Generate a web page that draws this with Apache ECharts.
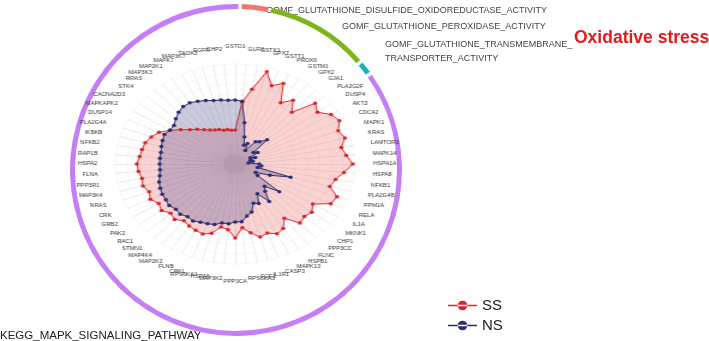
<!DOCTYPE html>
<html><head><meta charset="utf-8">
<script src="https://cdn.jsdelivr.net/npm/echarts@6/dist/echarts.min.js"></script>
<style>
html,body{margin:0;padding:0;background:#fff}
#wrap{position:relative;width:709px;height:341px;overflow:hidden}
#c{position:absolute;left:0;top:0;width:709px;height:341px}
#r{position:absolute;left:0;top:0;width:591px;height:341px;transform:scaleX(1.2);transform-origin:0 0}
</style>
</head><body><div id="wrap"><div id="c"></div><div id="r"></div></div>
<script>
// genes listed clockwise starting at the top
const genes = ['GSTO1','GLRX','GSTK1','GPX7','GSTT1','PRDX6','GSTM1','GPX2','GJA1','PLA2G2F',
  'DUSP4','AKT3','CDC42','MAPK1','KRAS','LAMTOR3','MAPK14','HSPA1A','HSPA8','NFKB1',
  'PLA2G4B','PPM1A','RELA','IL1A','MKNK1','CHP1','PPP3CC','FLNC','HSPB1','MAPK13',
  'CASP3','IL1R1','FGF1','RPS6KA3','PPP3CA','MAP3K2','HSPA6','RPS6KA1','CRKL','FLNB',
  'MAP2K2','MAP4K4','STMN1','RAC1','PAK2','GRB2','CRK','NRAS','MAP3K4','PPP3R1',
  'FLNA','HSPA2','RAP1B','NFKB2','IKBKB','PLA2G4A','DUSP14','MAPKAPK2','CACNA2D3','STK4',
  'RRAS','MAP3K3','MAP2K1','MAPK7','MAP3K7','TAOK3','EGFR','CHP2'];
const ssValues = [0.34,0.62,0.76,0.96,0.84,0.90,0.72,0.80,0.70,0.90,
  0.86,0.94,0.97,0.92,0.95,0.90,0.93,0.98,0.91,0.85,
  0.82,0.91,0.89,0.76,0.80,0.78,0.80,0.68,0.76,0.78,
  0.74,0.76,0.70,0.64,0.74,0.66,0.64,0.72,0.75,0.74,
  0.73,0.71,0.75,0.73,0.77,0.75,0.79,0.77,0.80,0.79,
  0.81,0.82,0.80,0.79,0.78,0.75,0.71,0.64,0.57,0.51,
  0.47,0.43,0.40,0.38,0.37,0.35,0.35,0.34];
const nsValues = [0.64,0.63,0.42,0.28,0.20,0.23,0.16,0.28,0.30,0.36,
  0.19,0.22,0.14,0.18,0.13,0.15,0.11,0.20,0.22,0.19,
  0.48,0.31,0.19,0.22,0.46,0.33,0.37,0.47,0.35,0.44,
  0.42,0.50,0.53,0.58,0.58,0.60,0.60,0.63,0.64,0.65,
  0.67,0.66,0.68,0.67,0.69,0.68,0.68,0.67,0.66,0.64,
  0.63,0.63,0.63,0.63,0.64,0.65,0.66,0.64,0.64,0.67,
  0.70,0.72,0.72,0.70,0.68,0.66,0.65,0.64];
const seriesNames = ['SS','NS'];
const ringGroups = ['GOMF_GLUTATHIONE_DISULFIDE_OXIDOREDUCTASE_ACTIVITY','GOMF_GLUTATHIONE_PEROXIDASE_ACTIVITY','GOMF_GLUTATHIONE_TRANSMEMBRANE_TRANSPORTER_ACTIVITY','KEGG_MAPK_SIGNALING_PATHWAY'];
const ringCounts = [2,7,1,58];

const n = genes.length;
// ECharts places radar indicators counter-clockwise; reorder so ours run clockwise
const order = [0];
for (let i = n - 1; i >= 1; i--) order.push(i);
const F = 'Liberation Sans, Arial, sans-serif';
const ringColors = ['#f0776b','#7db51c','#19b3c4','#c57ef4'];
const ssColor = '#d9262c', nsColor = '#2b2d6e';

// outer ring, legend and annotation texts
const chart = echarts.init(document.getElementById('c'));
const legendIcon = 'path://M0 4.1h30v1.8H0z M10 5a5 5 0 1 0 10 0a5 5 0 1 0 -10 0z';
const legendBase = { orient: 'vertical', left: 443, itemWidth: 29, itemHeight: 11, icon: legendIcon,
  textStyle: { fontSize: 15, color: '#222', fontFamily: F } };
chart.setOption({
  animation: false,
  legend: [
    Object.assign({ data: [{ name: seriesNames[0], itemStyle: { color: ssColor } }], top: 293 }, legendBase),
    Object.assign({ data: [{ name: seriesNames[1], itemStyle: { color: nsColor } }], top: 313 }, legendBase)
  ],
  series: [
    {
      type: 'pie', center: [236, 170], radius: [161, 166], startAngle: 88.6,
      padAngle: 1.2, silent: true, label: { show: false }, labelLine: { show: false },
      data: ringGroups.map((g, i) => ({ name: g, value: ringCounts[i], itemStyle: { color: ringColors[i] } }))
    },
    { type: 'line', name: seriesNames[0], data: [], itemStyle: { color: ssColor } },
    { type: 'line', name: seriesNames[1], data: [], itemStyle: { color: nsColor } }
  ],
  xAxis: { show: false, type: 'category' }, yAxis: { show: false },
  grid: { show: false },
  graphic: [
    { type: 'text', left: 266, top: 6, style: { text: 'GOMF_GLUTATHIONE_DISULFIDE_OXIDOREDUCTASE_ACTIVITY', fontSize: 9, fill: '#444', fontFamily: F } },
    { type: 'text', left: 342, top: 22, style: { text: 'GOMF_GLUTATHIONE_PEROXIDASE_ACTIVITY', fontSize: 9, fill: '#444', fontFamily: F } },
    { type: 'text', left: 385, top: 38, style: { text: 'GOMF_GLUTATHIONE_TRANSMEMBRANE_\nTRANSPORTER_ACTIVITY', fontSize: 9, lineHeight: 14, fill: '#444', fontFamily: F } },
    { type: 'text', left: 574, top: 29, style: { text: 'Oxidative stress', fontSize: 17.5, fontWeight: 'bold', fill: '#e3191c', fontFamily: F } },
    { type: 'text', left: 0, top: 330, style: { text: 'KEGG_MAPK_SIGNALING_PATHWAY', fontSize: 11.5, fill: '#222', fontFamily: F } }
  ]
});

// radar (drawn in its own layer, stretched horizontally like the reference)
const radar = echarts.init(document.getElementById('r'));
const splitColors = Array.from({ length: 10 }, (_, k) => k === 0 ? '#e4e4e4' : 'rgba(0,0,0,0)');
radar.setOption({
  animation: false,
  radar: {
    center: [196, 164], radius: 100, startAngle: 90, splitNumber: 10, shape: 'circle',
    indicator: order.map(i => ({ name: genes[i], min: 0, max: 1 })),
    nameGap: 15,
    axisName: { color: '#333', fontSize: 5, fontFamily: F },
    splitLine: { lineStyle: { color: '#eeeeee', width: 0.5 } },
    splitArea: { areaStyle: { color: splitColors } },
    axisLine: { lineStyle: { color: '#dddddd', width: 0.6 } }
  },
  series: [{
    type: 'radar', symbol: 'circle', symbolSize: 3.5,
    data: [
      { name: seriesNames[0], value: order.map(i => ssValues[i]),
        itemStyle: { color: ssColor }, lineStyle: { color: ssColor, width: 1 },
        areaStyle: { color: 'rgba(235,90,90,0.38)' } },
      { name: seriesNames[1], value: order.map(i => nsValues[i]),
        itemStyle: { color: nsColor }, lineStyle: { color: nsColor, width: 1 },
        areaStyle: { color: 'rgba(60,60,130,0.38)' } }
    ]
  }]
});
</script></body></html>
